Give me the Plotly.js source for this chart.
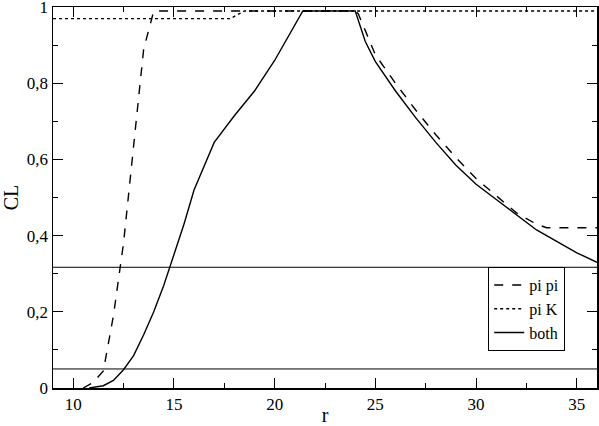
<!DOCTYPE html>
<html>
<head>
<meta charset="utf-8">
<script src="https://cdn.plot.ly/plotly-3.0.1.min.js"></script>
<style>html,body{margin:0;padding:0;background:#fff;}#chart{width:599px;height:426px;}</style>
</head>
<body>
<div id="chart"></div>
<script>
// ---- data ----
var piPiX = [10.5, 11, 11.5, 12, 12.5, 13, 13.5, 14, 24, 24.15, 25, 26, 27, 28, 29, 30, 31, 32, 33, 33.5, 36];
var piPiY = [0.0, 0.015, 0.045, 0.19, 0.38, 0.64, 0.89, 0.99, 0.99, 0.983, 0.875, 0.80, 0.73, 0.665, 0.605, 0.55, 0.505, 0.46, 0.43, 0.421, 0.421];

var piKX = [9, 17.8, 18.5, 36];
var piKY = [0.97, 0.97, 0.99, 0.99];

var bothX = [10.8, 11.5, 12, 12.5, 13, 13.5, 14, 14.5, 15, 15.5, 16, 17, 18, 19, 20, 21, 21.4, 24, 24.5, 25, 26, 27, 28, 29, 30, 31, 32, 33, 34, 35, 36];
var bothY = [0.0, 0.006, 0.02, 0.048, 0.085, 0.14, 0.20, 0.27, 0.35, 0.43, 0.52, 0.645, 0.715, 0.78, 0.86, 0.955, 0.99, 0.99, 0.91, 0.857, 0.78, 0.71, 0.645, 0.585, 0.535, 0.495, 0.455, 0.415, 0.385, 0.355, 0.33];

var clLevels = [0.317, 0.05];

var xMajorStep = 5, xMinorStep = 2.5;
var yMajorStep = 0.2, yMinorStep = 0.1;

// ---- chart ----
var FAM = 'Liberation Serif';

var traces = [
  {x: piPiX, y: piPiY, name: 'pi pi', mode: 'lines', line: {color: '#000', width: 1.4, dash: 'dash'}},
  {x: piKX, y: piKY, name: 'pi K', mode: 'lines', line: {color: '#000', width: 1.4, dash: 'dot'}},
  {x: bothX, y: bothY, name: 'both', mode: 'lines', line: {color: '#000', width: 1.4}}
];

var shapes = clLevels.map(function (v) {
  return {type: 'line', xref: 'paper', x0: 0, x1: 1, yref: 'y', y0: v, y1: v, line: {color: '#000', width: 1}, layer: 'below'};
});

var layout = {
  width: 599, height: 426,
  margin: {l: 53, r: 2, t: 7, b: 38},
  paper_bgcolor: '#fff', plot_bgcolor: '#fff',
  font: {family: FAM, color: '#000', size: 16},
  separators: ',.',
  showlegend: true,
  legend: {
    x: 0.80, y: 0.097, xanchor: 'left', yanchor: 'bottom',
    bgcolor: '#fff', bordercolor: '#000', borderwidth: 1,
    font: {family: FAM, size: 16, color: '#000'},
    tracegroupgap: 0, itemwidth: 30
  },
  shapes: shapes,
  xaxis: {
    range: [9, 36], tick0: 0, dtick: xMajorStep,
    ticks: 'inside', ticklen: 10, tickwidth: 1, tickcolor: '#000',
    minor: {tick0: 0, dtick: xMinorStep, ticks: 'inside', ticklen: 5, tickwidth: 1, tickcolor: '#000'},
    showline: true, linecolor: '#000', linewidth: 1.5, mirror: 'ticks',
    showgrid: false, zeroline: false, ticklabeloverflow: 'allow',
    tickfont: {family: FAM, size: 17, color: '#000'},
    title: {text: 'r', font: {family: FAM, size: 20, color: '#000'}, standoff: 0}
  },
  yaxis: {
    range: [0, 1.0005], tick0: 0, dtick: yMajorStep,
    ticks: 'inside', ticklen: 10, tickwidth: 1, tickcolor: '#000',
    minor: {tick0: 0, dtick: yMinorStep, ticks: 'inside', ticklen: 5, tickwidth: 1, tickcolor: '#000'},
    showline: true, linecolor: '#000', linewidth: 1.5, mirror: 'ticks',
    showgrid: false, zeroline: false, ticklabeloverflow: 'allow',
    tickfont: {family: FAM, size: 17, color: '#000'},
    title: {text: 'CL', font: {family: FAM, size: 20, color: '#000'}, standoff: 6}
  }
};

Plotly.newPlot('chart', traces, layout, {displayModeBar: false, staticPlot: true});
</script>
</body>
</html>
